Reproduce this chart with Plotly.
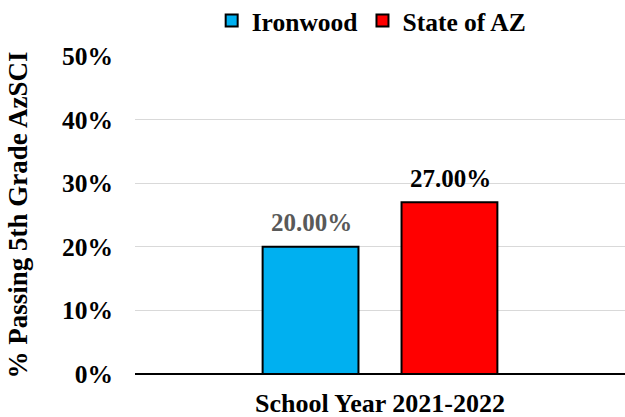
import plotly.graph_objects as go

categories = ["School Year 2021-2022"]
series_names = ["Ironwood", "State of AZ"]
ironwood = [20.0]
state_az = [27.0]
y_ticks = [0, 10, 20, 30, 40, 50]
y_tick_labels = ["0%", "10%", "20%", "30%", "40%", "50%"]

FONT = "Liberation Serif"
W, H = 625, 417
ML, MR, MT, MB = 135, 0, 56, 43
BARGAP, GROUPGAP = 0.433, 0.31

def f(size=25, color="#000000"):
    return dict(family=FONT, size=size, color=color, weight="bold")

colors = ["#00B0F0", "#FF0000"]
label_colors = ["#595959", "#000000"]
values = [ironwood, state_az]

fig = go.Figure()
for name, vals, c in zip(series_names, values, colors):
    fig.add_trace(go.Bar(
        name=name, x=categories, y=vals,
        marker=dict(color=c, line=dict(color="#000000", width=2)),
        hoverinfo="skip",
    ))

# data labels above bars
cat_px = (W - ML - MR) / len(categories)
slot_px = (1 - BARGAP) * cat_px / len(series_names)
for i, (vals, lc) in enumerate(zip(values, label_colors)):
    offset = (i - (len(series_names) - 1) / 2) * slot_px + 1
    for cat, v in zip(categories, vals):
        fig.add_annotation(
            x=cat, y=v, xref="x", yref="y", text=f"{v:.2f}%",
            showarrow=False, xanchor="center", yanchor="middle",
            xshift=offset, yshift=24, font=f(25, lc),
        )

fig.update_layout(
    width=W, height=H,
    margin=dict(l=ML, r=MR, t=MT, b=MB, autoexpand=False),
    paper_bgcolor="white", plot_bgcolor="white",
    barmode="group", bargap=BARGAP, bargroupgap=GROUPGAP,
    font=f(25),
    showlegend=True,
    legend=dict(orientation="h", x=0.483, xanchor="center",
                y=1.11, yanchor="middle",
                font=f(25.5), traceorder="normal", itemwidth=30),
    xaxis=dict(showgrid=False, showline=False, ticks="",
               ticklabelstandoff=11, tickfont=f(26)),
    yaxis=dict(range=[0, 50], tickvals=y_ticks, ticktext=y_tick_labels,
               showgrid=True, gridcolor="#D9D9D9", gridwidth=1,
               zeroline=True, zerolinecolor="#000000", zerolinewidth=2,
               showline=False, ticks="", ticklen=0,
               ticklabelstandoff=21,
               tickfont=f(25.5),
               title=dict(text="% Passing 5th Grade AzSCI",
                          font=f(27), standoff=26)),
)

fig.write_html("out.html", config={"displayModeBar": False},
               post_script="document.body.style.margin='0';")
